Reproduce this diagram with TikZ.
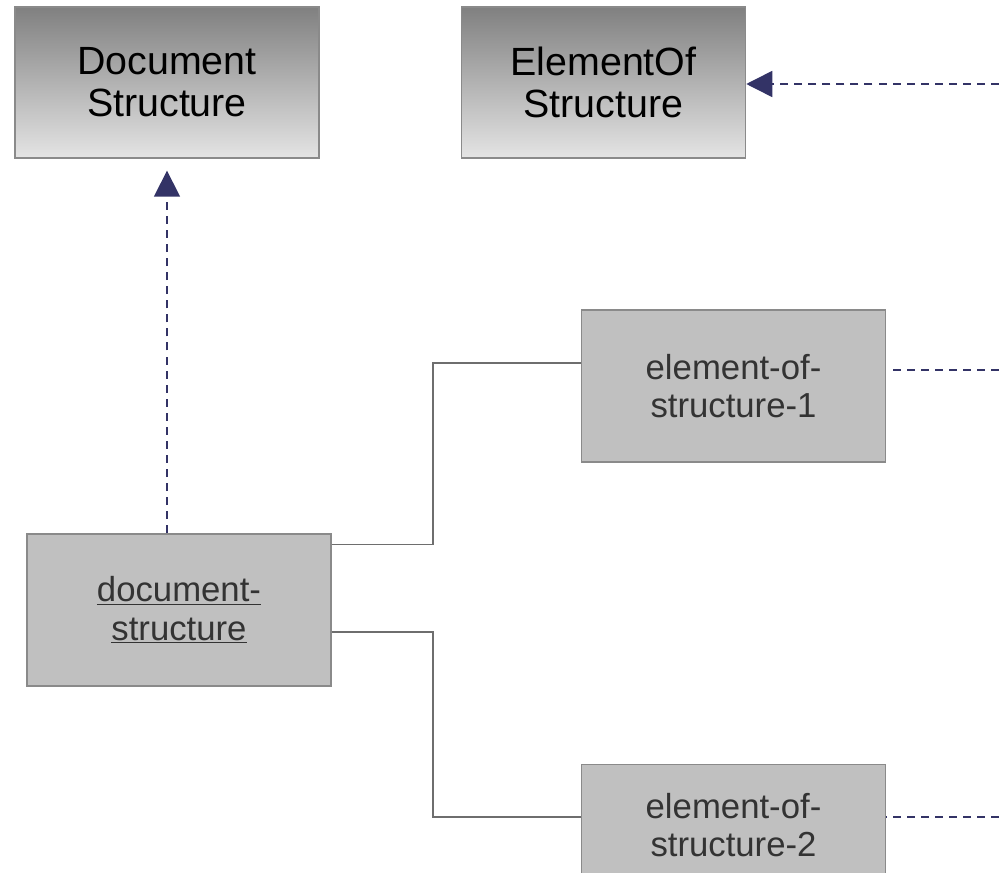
\documentclass[tikz,border=0pt]{standalone}
\usepackage{fontspec}
\setmainfont{Liberation Sans}
\usetikzlibrary{positioning, arrows.meta, calc}

\definecolor{boxline}{HTML}{8A8A8A}
\definecolor{boxfill}{HTML}{C0C0C0}
\definecolor{shadetop}{HTML}{808080}
\definecolor{shadebottom}{HTML}{E4E4E4}
\definecolor{navy}{HTML}{333366}
\definecolor{linkgray}{HTML}{6E6E6E}
\definecolor{textgray}{HTML}{333333}

\begin{document}
\begin{tikzpicture}[
        x=0.025cm, y=-0.025cm,
        classbox/.style={rectangle, draw=boxline, line width=1pt, top color=shadetop, bottom color=shadebottom, minimum width=7.6cm, minimum height=3.775cm, align=center, font=\fontsize{28}{30}\selectfont},
        instbox/.style={rectangle, draw=boxline, line width=1pt, fill=boxfill, text=textgray, minimum width=7.6cm, minimum height=3.8cm, align=center, font=\fontsize{24.7}{27.5}\selectfont},
        dashline/.style={navy, line width=1.1pt, dash pattern=on 5.7pt off 4.3pt},
        realize/.style={dashline, -{Triangle[length=18.5pt, width=18.5pt]}},
        link/.style={linkgray, line width=1.1pt}
    ]

        \useasboundingbox (0,0) rectangle (999,873);

        \node[classbox] (docclass) at (167,82.5) {Document\\Structure};
        \node[classbox, minimum width=7.1cm, right=3.525cm of docclass] (eltclass) {ElementOf\\Structure};

        \node[instbox] (docstruct) at (179,610) {\underline{document-}\\\underline{structure}};
        \node[instbox] (eos1) at (733.5,386) {element-of-\\structure-1};
        \node[instbox, minimum height=3.025cm, below=7.525cm of eos1] (eos2) {element-of-\\structure-2};

        \coordinate (offtop) at (999,84);
        \coordinate (off1) at (999,370);
        \coordinate (off2) at (999,817);

        \draw[realize, shorten >=8.5pt] (docstruct.north -| docclass.south) -- (docclass.south);
        \draw[realize] (offtop) -- (offtop -| eltclass.east);
        \draw[dashline] (off1) -- ($(off1 -| eos1.east)+(6,0)$);
        \draw[dashline] (off2) -- (off2 -| eos2.east);

        \draw[link] ($(docstruct.north east)+(0,11)$) -- ++(101,0) |- ($(eos1.west)+(0,-23)$);
        \draw[link] ($(docstruct.east)+(0,22)$) -- ++(101,0) |- (off2 -| eos2.west);

    \end{tikzpicture}
\end{document}
